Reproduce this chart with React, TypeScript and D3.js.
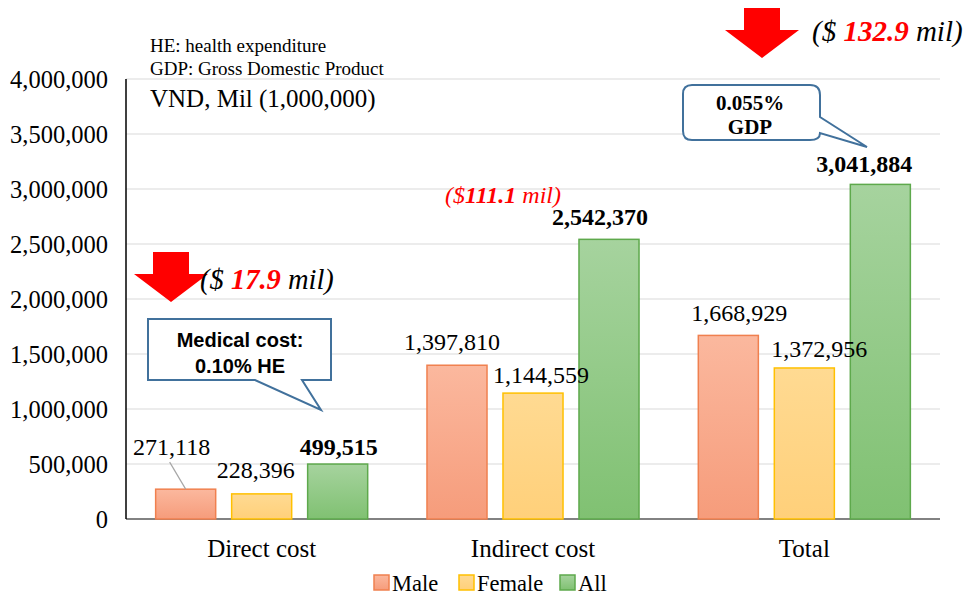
import * as d3 from 'd3'

// categories and series
const CATEGORIES = ['Direct cost', 'Indirect cost', 'Total']
const SERIES = ['Male', 'Female', 'All']

// values (VND, mil)
const MALE = [271118, 1397810, 1668929]
const FEMALE = [228396, 1144559, 1372956]
const ALL = [499515, 2542370, 3041884]

const Y_TICKS = [0, 500000, 1000000, 1500000, 2000000, 2500000, 3000000, 3500000, 4000000]

// label nudges [series][category] -> [dx, dy] from bar top centre
const LABEL_OFFSETS = [
  [[-14, -34], [-5, -15], [11, -14]],
  [[-6, -16], [8, -10], [15, -11]],
  [[1, -9], [-9, -14], [-16, -12]],
]

const COLORS = [
  { top: '#FBB89E', bottom: '#F69C7B', stroke: '#F0804F' },
  { top: '#FFDA92', bottom: '#FFD07A', stroke: '#FFC000' },
  { top: '#A6D39E', bottom: '#80C172', stroke: '#5EA94C' },
]

const W = 969
const H = 598
const M = { left: 126, right: 940, top: 79, bottom: 519 }

const serif = '"Liberation Serif", "Times New Roman", serif'
const sans = '"Liberation Sans", Arial, sans-serif'

const fmt = d3.format(',')

function Arrow({ cx, top }: { cx: number; top: number }) {
  // blocky red down arrow
  const p = [
    [cx - 18, top], [cx + 18, top], [cx + 18, top + 22], [cx + 37, top + 22],
    [cx, top + 50], [cx - 37, top + 22], [cx - 18, top + 22],
  ]
  return <polygon points={p.map(d => d.join(',')).join(' ')} fill="#FF0000" />
}

export default function App() {
  const data = [MALE, FEMALE, ALL]

  const x = d3.scaleBand<string>().domain(CATEGORIES).range([M.left, M.right])
  const xs = d3.scaleBand<string>().domain(SERIES).range([-114, 114]).paddingInner(0.21).paddingOuter(0.105)
  const y = d3.scaleLinear().domain([0, 4000000]).range([M.bottom, M.top])

  const cx = (c: number) => x(CATEGORIES[c])! + x.bandwidth() / 2

  return (
    <svg width={W} height={H} style={{ position: 'absolute', left: 0, top: 0, background: '#fff' }}>
      <defs>
        {COLORS.map((c, i) => (
          <linearGradient key={i} id={`g${i}`} x1="0" y1="0" x2="0" y2="1">
            <stop offset="0" stopColor={c.top} />
            <stop offset="1" stopColor={c.bottom} />
          </linearGradient>
        ))}
      </defs>

      {/* grid */}
      {Y_TICKS.map(t => (
        <line key={t} x1={M.left} x2={M.right} y1={y(t)} y2={y(t)}
          stroke={t === 0 ? '#595959' : '#D9D9D9'} strokeWidth={t === 0 ? 1.5 : 1.2} />
      ))}
      <line x1={M.left} x2={M.left} y1={M.top} y2={M.bottom} stroke="#000" strokeWidth={1.5} />

      {/* y tick labels */}
      {Y_TICKS.map(t => (
        <text key={t} x={108} y={y(t)} dy="0.35em" textAnchor="end" fontFamily={serif} fontSize={24.5}>
          {fmt(t)}
        </text>
      ))}

      {/* bars */}
      {data.map((vals, s) =>
        vals.map((v, c) => (
          <rect key={`${s}-${c}`} x={cx(c) + xs(SERIES[s])!} y={y(v)} width={xs.bandwidth()}
            height={y(0) - y(v)} fill={`url(#g${s})`} stroke={COLORS[s].stroke} strokeWidth={1.5} />
        ))
      )}

      {/* leader line for 271,118 */}
      <line x1={cx(0) + xs('Male')! + xs.bandwidth() / 2 - 16} y1={y(MALE[0]) - 27}
        x2={cx(0) + xs('Male')! + xs.bandwidth() / 2} y2={y(MALE[0])} stroke="#A6A6A6" strokeWidth={1.2} />

      {/* value labels */}
      {data.map((vals, s) =>
        vals.map((v, c) => {
          const [dx, dy] = LABEL_OFFSETS[s][c]
          return (
            <text key={`l${s}-${c}`} x={cx(c) + xs(SERIES[s])! + xs.bandwidth() / 2 + dx} y={y(v) + dy}
              textAnchor="middle" fontFamily={serif} fontSize={24}
              fontWeight={s === 2 ? 'bold' : 'normal'}>
              {fmt(v)}
            </text>
          )
        })
      )}

      {/* category labels */}
      {CATEGORIES.map((c, i) => (
        <text key={c} x={cx(i)} y={557} textAnchor="middle" fontFamily={serif} fontSize={25}>{c}</text>
      ))}

      {/* legend */}
      {[374, 459, 560].map((lx, i) => (
        <g key={i}>
          <rect x={lx} y={575} width={15} height={15} fill={`url(#g${i})`} stroke={COLORS[i].stroke} strokeWidth={1.5} />
          <text x={lx + 18} y={591} fontFamily={serif} fontSize={22.5}>{SERIES[i]}</text>
        </g>
      ))}

      {/* notes */}
      <text x={150} y={52} fontFamily={serif} fontSize={19}>HE: health expenditure</text>
      <text x={150} y={75} fontFamily={serif} fontSize={19}>GDP: Gross Domestic Product</text>
      <text x={150} y={107} fontFamily={serif} fontSize={25}>VND, Mil (1,000,000)</text>

      {/* arrows and money notes */}
      <Arrow cx={171} top={252} />
      <text x={200} y={289} fontFamily={serif} fontSize={28.5} fontStyle="italic">
        ($ <tspan fill="#FF0000" fontWeight="bold">17.9</tspan> mil)
      </text>

      <Arrow cx={762} top={8} />
      <text x={812} y={41} fontFamily={serif} fontSize={29} fontStyle="italic">
        ($ <tspan fill="#FF0000" fontWeight="bold">132.9</tspan> mil)
      </text>

      <text x={445} y={203} fontFamily={serif} fontSize={24} fontStyle="italic" fill="#FF0000">
        ($<tspan fontWeight="bold">111.1</tspan> mil)
      </text>

      {/* callout: medical cost */}
      <path d="M148,319 L331,319 L331,380 L302,380 L321,410 L255,380 L148,380 Z"
        fill="#fff" stroke="#41719C" strokeWidth={2} />
      <text x={240} y={347} textAnchor="middle" fontFamily={sans} fontWeight="bold" fontSize={20}>Medical cost:</text>
      <text x={240} y={373} textAnchor="middle" fontFamily={sans} fontWeight="bold" fontSize={20}>0.10% HE</text>

      {/* callout: GDP */}
      <path d="M692,85 L810,85 Q820,85 820,95 L820,117 L867,147 L820,133 Q820,140 810,140 L692,140 Q683,140 683,131 L683,94 Q683,85 692,85 Z"
        fill="#fff" stroke="#41719C" strokeWidth={2} />
      <text x={750} y={110} textAnchor="middle" fontFamily={serif} fontWeight="bold" fontSize={21}>0.055%</text>
      <text x={750} y={134} textAnchor="middle" fontFamily={serif} fontWeight="bold" fontSize={21}>GDP</text>
    </svg>
  )
}
